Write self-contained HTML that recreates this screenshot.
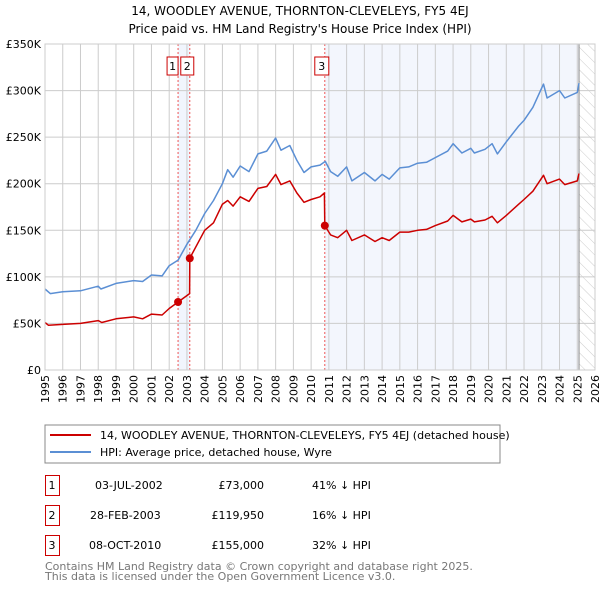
<!DOCTYPE html>
<html><head><meta charset="utf-8"><style>
body{margin:0;background:#fff;}
svg{display:block;font-family:"DejaVu Sans","Liberation Sans",sans-serif;}
</style></head><body>
<svg id="c" width="600" height="590" viewBox="0 0 600 590">
<defs><pattern id="hatch" width="8" height="8" patternUnits="userSpaceOnUse" patternTransform="rotate(-45)"><line x1="0" y1="0" x2="0" y2="8" stroke="#ccc" stroke-width="1"/></pattern></defs>
<text x="300" y="15" text-anchor="middle" font-size="12">14, WOODLEY AVENUE, THORNTON-CLEVELEYS, FY5 4EJ</text>
<text x="300" y="33" text-anchor="middle" font-size="12">Price paid vs. HM Land Registry's House Price Index (HPI)</text>
<g id="plot"></g>
<rect x="45" y="425" width="455" height="38" fill="none" stroke="#888"/>
<line x1="50" y1="435" x2="91" y2="435" stroke="#cc0000" stroke-width="2"/>
<text x="100" y="439" font-size="11">14, WOODLEY AVENUE, THORNTON-CLEVELEYS, FY5 4EJ (detached house)</text>
<line x1="50" y1="452" x2="91" y2="452" stroke="#5b8fd4" stroke-width="2"/>
<text x="100" y="456" font-size="11">HPI: Average price, detached house, Wyre</text>
<g font-size="11">
<rect x="45.5" y="475.5" width="14" height="20" fill="none" stroke="#cc0000"/><text x="52" y="489" text-anchor="middle">1</text>
<text x="95" y="489">03-JUL-2002</text><text x="264" y="489" text-anchor="end">£73,000</text><text x="312" y="489">41% ↓ HPI</text>
<rect x="45.5" y="505.5" width="14" height="20" fill="none" stroke="#cc0000"/><text x="52" y="519" text-anchor="middle">2</text>
<text x="90" y="519">28-FEB-2003</text><text x="264" y="519" text-anchor="end">£119,950</text><text x="312" y="519">16% ↓ HPI</text>
<rect x="45.5" y="535.5" width="14" height="20" fill="none" stroke="#cc0000"/><text x="52" y="549" text-anchor="middle">3</text>
<text x="89" y="549">08-OCT-2010</text><text x="264" y="549" text-anchor="end">£155,000</text><text x="312" y="549">32% ↓ HPI</text>
</g>
<text x="45" y="570" font-size="11" fill="#777">Contains HM Land Registry data © Crown copyright and database right 2025.</text>
<text x="45" y="580" font-size="11" fill="#777">This data is licensed under the Open Government Licence v3.0.</text>
</svg>
<script>
const hpiYears=[1995,1995.3,1996,1997,1998,1998.15,1999,2000,2000.5,2001,2001.6,2002,2002.5,2003,2003.5,2004,2004.5,2005,2005.3,2005.6,2006,2006.5,2007,2007.5,2008,2008.3,2008.8,2009.2,2009.6,2010,2010.5,2010.8,2011.1,2011.5,2012,2012.3,2013,2013.6,2014,2014.4,2015,2015.5,2016,2016.5,2017,2017.7,2018,2018.5,2019,2019.2,2019.8,2020.2,2020.5,2021,2021.7,2022,2022.5,2023.1,2023.3,2024,2024.3,2025,2025.1];
const hpiValues=[87,82,84,85,90,87,93,96,95,102,101,112,118,135,150,168,182,200,215,207,219,213,232,235,249,236,241,225,212,218,220,224,213,208,218,203,212,203,210,205,217,218,222,223,228,235,243,233,238,233,237,243,232,245,262,268,282,307,292,300,292,298,308];
const propYears=[1995,1995.2,1996,1997,1998,1998.2,1999,2000,2000.5,2001,2001.6,2002,2002.5,2003.15,2003.16,2004,2004.5,2005,2005.3,2005.6,2006,2006.5,2007,2007.5,2008,2008.3,2008.8,2009.2,2009.6,2010,2010.5,2010.75,2010.77,2011.1,2011.5,2012,2012.3,2013,2013.6,2014,2014.4,2015,2015.5,2016,2016.5,2017,2017.7,2018,2018.5,2019,2019.2,2019.8,2020.2,2020.5,2021,2021.7,2022,2022.5,2023.1,2023.3,2024,2024.3,2025,2025.1];
const propValues=[51,48,49,50,53,51,55,57,55,60,59,66,73,82,120,150,158,178,182,176,186,181,195,197,210,199,203,190,180,183,186,190,155,145,142,150,139,145,138,142,139,148,148,150,151,155,160,166,159,162,159,161,165,158,166,178,183,192,209,200,205,199,203,211];
const saleLabels=["1","2","3"];
const saleYears=[2002.5,2003.16,2010.77];
const saleValues=[73,119.95,155];
const yTicks=[0,50,100,150,200,250,300,350];
const yTickLabels=["£0","£50K","£100K","£150K","£200K","£250K","£300K","£350K"];
const xTicks=[1995,1996,1997,1998,1999,2000,2001,2002,2003,2004,2005,2006,2007,2008,2009,2010,2011,2012,2013,2014,2015,2016,2017,2018,2019,2020,2021,2022,2023,2024,2025,2026];

const X0=45,X1=595,Y0=370,Y1=44;
const xs=y=>X0+(y-1995)/(2026-1995)*(X1-X0);
const ys=v=>Y0-v/350*(Y0-Y1);
const NS="http://www.w3.org/2000/svg";
const g=document.getElementById('plot');
function mk(t,a,p){const e=document.createElementNS(NS,t);for(const k in a)e.setAttribute(k,a[k]);(p||g).appendChild(e);return e;}
let e;
e=mk('rect',{x:xs(saleYears[0]),y:Y1,width:xs(saleYears[1])-xs(saleYears[0]),height:Y0-Y1,fill:'#f1f5fd'});


e=mk('rect',{x:xs(saleYears[2]),y:Y1,width:xs(2025.1)-xs(saleYears[2]),height:Y0-Y1,fill:'#f3f6fd'});


e=mk('rect',{x:xs(2025.1),y:Y1,width:X1-xs(2025.1),height:Y0-Y1,fill:'url(#hatch)'});


xTicks.forEach((t,i)=>{
  e=mk('line',{x1:xs(t),x2:xs(t),y1:Y1,y2:Y0,stroke:'#ccc','stroke-width':1});
  
  
  e=mk('text',{x:0,y:0,transform:`translate(${xs(t)+4},${Y0+5}) rotate(-90)`,'text-anchor':'end','font-size':11});
  e.textContent=t;
  
  
});
yTicks.forEach((t,i)=>{
  e=mk('line',{x1:X0,x2:X1,y1:ys(t),y2:ys(t),stroke:'#ccc','stroke-width':1});
  
  
  e=mk('text',{x:X0-4,y:ys(t)+4,'text-anchor':'end','font-size':11});
  e.textContent=yTickLabels[i];
  
  
});
e=mk('line',{x1:xs(2025.1),x2:xs(2025.1),y1:Y1,y2:Y0,stroke:'#888','stroke-width':1});


saleYears.forEach((s,i)=>{
  e=mk('line',{x1:xs(s),x2:xs(s),y1:Y1,y2:Y0,stroke:'#ee5555','stroke-width':1,'stroke-dasharray':'2,2'});
  
  
});
function line(xa,va,col,name){
  e=mk('polyline',{points:xa.map((x,i)=>xs(x).toFixed(1)+','+ys(va[i]).toFixed(1)).join(' '),fill:'none',stroke:col,'stroke-width':1.5,'stroke-linejoin':'round'});
  
  
}
line(hpiYears,hpiValues,'#5b8fd4','hpi-line');
line(propYears,propValues,'#cc0000','property-line');
saleYears.forEach((s,i)=>{
  e=mk('circle',{cx:xs(s),cy:ys(saleValues[i]),r:4,fill:'#cc0000'});
  
  
});
// label boxes (offsets avoid overlap like reference)
const boxOff=[-11,-9,-10];
const boxW=[11,13,14];
saleYears.forEach((s,i)=>{
  const bx=xs(s)+boxOff[i];
  e=mk('rect',{x:bx,y:57,width:boxW[i],height:18,fill:'#fff',stroke:'#cc0000'});
  
  
  e=mk('text',{x:bx+boxW[i]/2,y:70,'text-anchor':'middle','font-size':11});
  e.textContent=saleLabels[i];
  
  
});
e=mk('rect',{x:X0,y:Y1,width:X1-X0,height:Y0-Y1,fill:'none',stroke:'#ccc'});


</script>
</body></html>
